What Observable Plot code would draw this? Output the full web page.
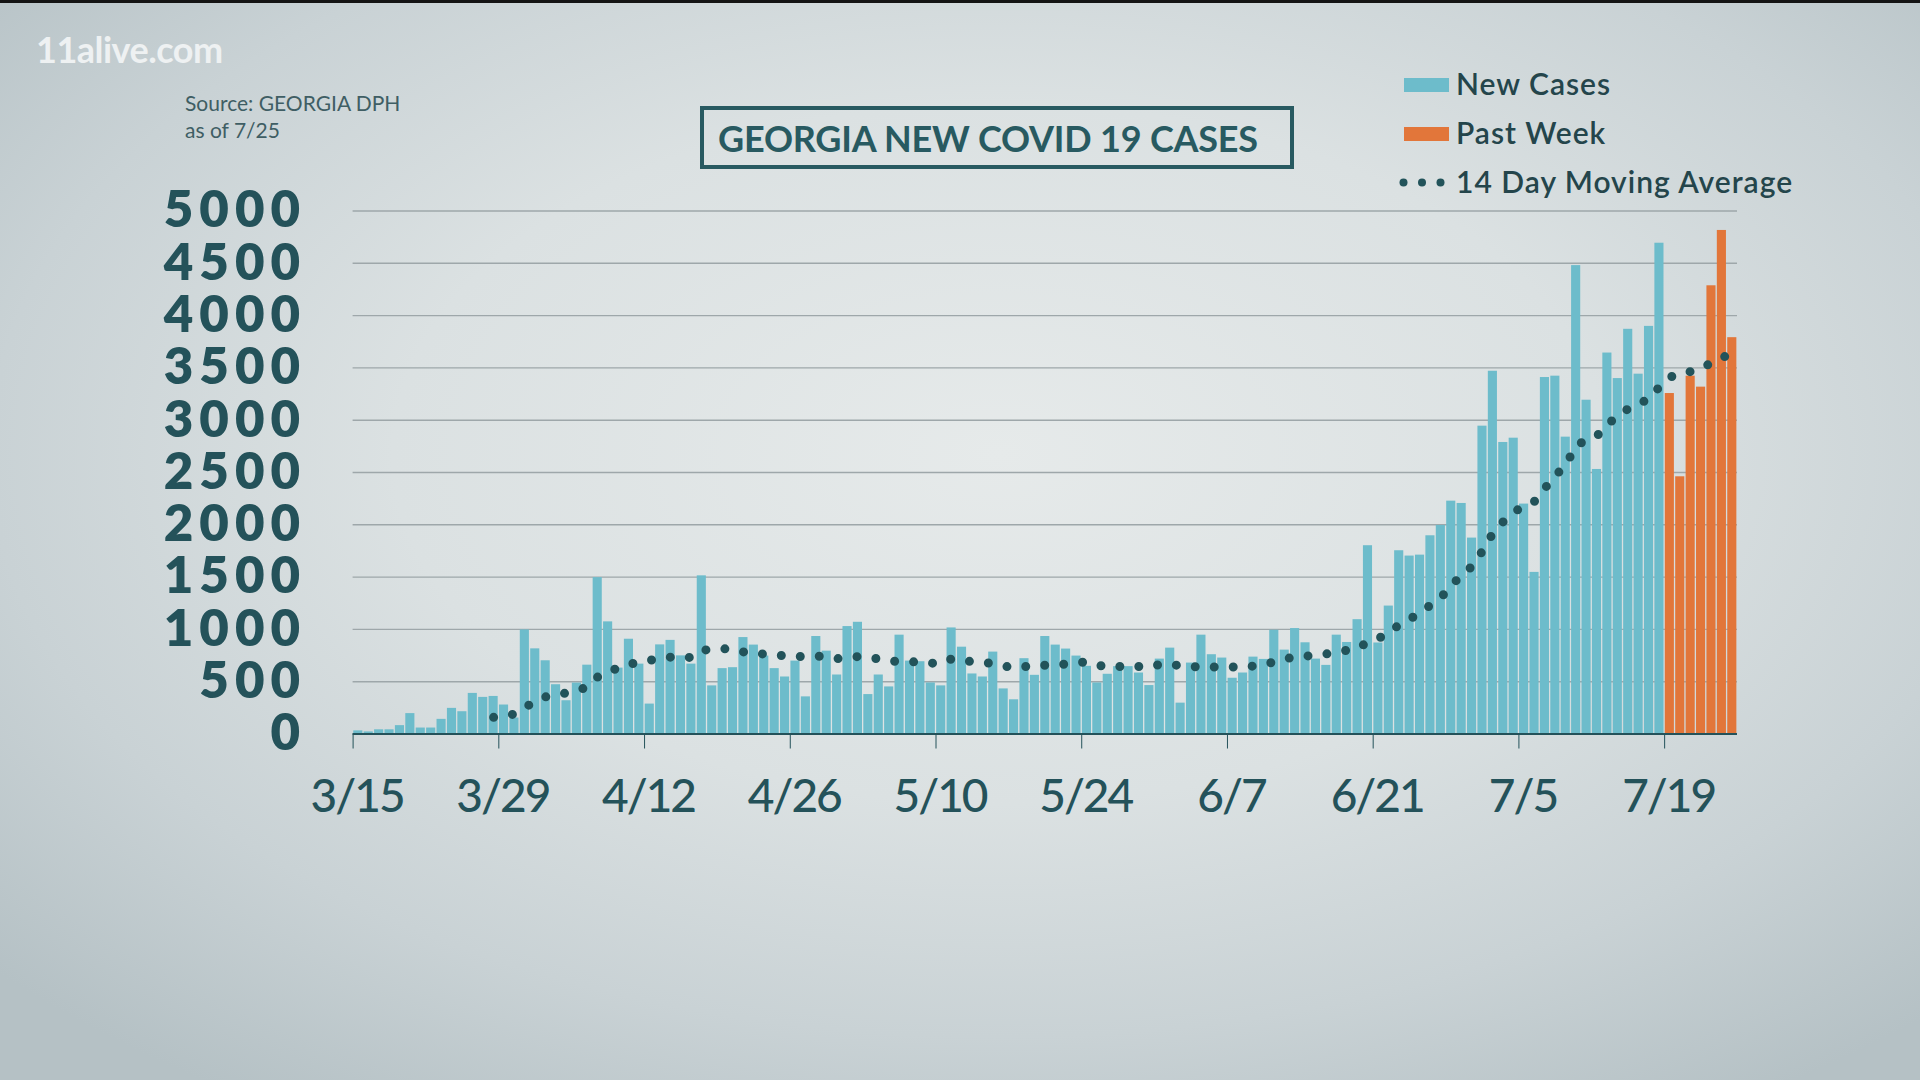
<!DOCTYPE html>
<html>
<head>
<meta charset="utf-8">
<script src="https://cdn.jsdelivr.net/npm/d3@7"></script>
<script src="https://cdn.jsdelivr.net/npm/@observablehq/plot@0.6"></script>
<style>
html, body { margin: 0; padding: 0; width: 1920px; height: 1080px; overflow: hidden; }
body {
  position: relative;
  font-family: Lato, "Open Sans", sans-serif;
  background: radial-gradient(ellipse 70% 72% at 52% 42%, #e6eaea 0%, #dbe1e2 45%, #c9d2d5 75%, #b5c1c5 100%);
}
#topbar { position: absolute; left: 0; top: 0; width: 1920px; height: 3px; background: #141414; }
#logo { position: absolute; left: 36px; top: 27px; font-weight: 700; font-size: 36px; color: #eef1f2; letter-spacing: -0.5px; }
#source { position: absolute; left: 185px; top: 89px; color: #3f5e64; font-size: 21px; line-height: 27px; white-space: nowrap; }
#title { position: absolute; left: 700px; top: 106px; width: 594px; height: 63px; box-sizing: border-box; border: 4px solid #285a61; }
#title span { position: absolute; left: 14px; top: 10px; font-weight: 700; font-size: 36px; line-height: 36px; letter-spacing: -0.2px; color: #285a61; white-space: nowrap; }
.leg { position: absolute; left: 1404px; height: 49px; font-size: 30px; font-weight: 600; color: #24454b; letter-spacing: 1px; white-space: nowrap; }
.leg .sw { position: absolute; left: 0; width: 45px; height: 14px; }
.leg .tx { position: absolute; left: 52px; line-height: 30px; }
.leg .dots { position: absolute; left: -5px; width: 46px; height: 9px; }
#chart { position: absolute; left: 0; top: 190px; }
#chart svg g[aria-label^="y-axis"] { font-size: 51px; font-weight: 800; letter-spacing: 6px; }
#chart svg g[aria-label^="x-axis"] { font-size: 46px; font-weight: 500; letter-spacing: -2px; }
</style>
</head>
<body>
<div id="topbar"></div>
<div id="logo">11alive.com</div>
<div id="source">Source: GEORGIA DPH<br>as of 7/25</div>
<div id="title"><span>GEORGIA NEW COVID 19 CASES</span></div>
<div id="legend"></div>
<div id="chart"></div>
<script>
// ---- data ----
const firstDay = "2020-03-15";      // first bar
const maFirstDay = "2020-03-28";    // first day of the 14-day moving average
const pastWeekFirstDay = "2020-07-19";
const seriesNames = ["New Cases", "Past Week"];
const maName = "14 Day Moving Average";
const seriesColors = ["#6dbccb", "#e2763a"];
const maColor = "#22535a";

// daily new cases, 3/15 .. 7/25
const cases = [
  30, 20, 40, 40, 80, 195, 57, 57, 140, 245, 213, 388, 350, 359,
  277, 153, 995, 814, 700, 471, 318, 487, 658, 1495, 1072, 630, 906, 668,
  286, 852, 895, 747, 668, 1512, 460, 625, 634, 922, 850, 745, 625, 545,
  697, 355, 932, 792, 564, 1027, 1068, 377, 564, 450, 945, 697, 691, 488,
  460, 1014, 830, 574, 545, 783, 431, 327, 720, 561, 932, 850, 812, 745,
  647, 488, 571, 644, 644, 583, 463, 716, 821, 295, 678, 945, 758, 726,
  533, 583, 735, 713, 992, 802, 1008, 872, 716, 656, 945, 875, 1093, 1800,
  870, 1223, 1752, 1701, 1710, 1895, 1994, 2226, 2204, 1873, 2943, 3468, 2787, 2828,
  2198, 1545, 3408, 3421, 2838, 4478, 3191, 2529, 3642, 3398, 3869, 3440, 3897, 4692,
  3255, 2459, 3421, 3316, 4285, 4814, 3789
];

// 14-day moving average, 3/28 .. 7/25
const movingAvg = [
  159, 175, 190, 255, 310, 355, 375, 392, 413, 450, 545, 600, 630, 665,
  690, 705, 720, 735, 740, 730, 800, 810, 815, 810, 785, 770, 765, 760,
  745, 742, 740, 745, 738, 720, 730, 740, 728, 720, 700, 692, 690, 690,
  678, 675, 718, 705, 690, 682, 675, 650, 632, 645, 652, 658, 662, 669,
  680, 691, 660, 640, 645, 650, 645, 640, 665, 670, 650, 645, 640, 640,
  640, 640, 640, 650, 662, 690, 715, 740, 745, 751, 765, 785, 800, 818,
  880, 910, 980, 1040, 1095, 1165, 1230, 1305, 1410, 1530, 1600, 1750, 1920, 2030,
  2120, 2180, 2225, 2350, 2470, 2570, 2760, 2810, 2850, 2960, 3040, 3110, 3160, 3200,
  3320, 3410, 3450, 3465, 3510, 3540, 3600, 3630
];

const xTickDays = ["2020-03-15", "2020-03-29", "2020-04-12", "2020-04-26", "2020-05-10",
                   "2020-05-24", "2020-06-07", "2020-06-21", "2020-07-05", "2020-07-19"];
const yTicks = [0, 500, 1000, 1500, 2000, 2500, 3000, 3500, 4000, 4500, 5000];

// ---- build tables ----
const t0 = new Date(firstDay);
const tMa = new Date(maFirstDay);
const tWeek = new Date(pastWeekFirstDay);
const rows = cases.map((v, i) => {
  const date = d3.utcDay.offset(t0, i);
  return {date, next: d3.utcDay.offset(t0, i + 1), cases: v,
          series: date >= tWeek ? seriesNames[1] : seriesNames[0]};
});
const maRows = movingAvg.map((v, i) => ({
  x: d3.utcHour.offset(d3.utcDay.offset(tMa, i), 12), ma: v
}));

const chart = Plot.plot({
  width: 1920,
  height: 650,
  marginLeft: 352.6,
  marginRight: 183,
  marginTop: 20.5,
  marginBottom: 106.5,
  style: {background: "transparent", fontFamily: "Lato, sans-serif", fontSize: "46px", color: "#24525a", overflow: "visible"},
  x: {type: "utc", domain: [t0, d3.utcDay.offset(t0, cases.length)],
      ticks: xTickDays.map(d => new Date(d)), tickFormat: d3.utcFormat("%-m/%-d"),
      tickSize: 15, tickPadding: 30, label: null},
  y: {domain: [0, 5000], ticks: yTicks, tickFormat: d => String(d), tickSize: 0, tickPadding: 47, label: null},
  color: {domain: seriesNames, range: seriesColors},
  marks: [
    Plot.ruleY(yTicks.filter(d => d > 0), {stroke: "#9ea7aa", strokeWidth: 1.4}),
    Plot.rectY(rows, {x1: "date", x2: "next", y1: 0, y2: "cases", fill: "series", insetLeft: 0.65, insetRight: 0.65}),
    Plot.ruleY([0], {stroke: "#24525a", strokeWidth: 2}),
    Plot.line(maRows, {x: "x", y: "ma", stroke: maColor, strokeWidth: 9, strokeLinecap: "round", strokeDasharray: "0 19"})
  ]
});
// nudge the date labels slightly right, as in the reference
d3.select(chart).selectAll('g[aria-label^="x-axis"] text').attr("dx", 4);
document.getElementById("chart").appendChild(chart);

// ---- legend (HTML) ----
const legend = document.getElementById("legend");
const legItems = [
  {name: seriesNames[0], color: seriesColors[0], top: 68},
  {name: seriesNames[1], color: seriesColors[1], top: 117},
  {name: maName, color: maColor, top: 166, dots: true}
];
legItems.forEach(it => {
  const d = document.createElement("div");
  d.className = "leg";
  d.style.top = it.top + "px";
  if (it.dots) {
    d.innerHTML = `<svg class="dots" style="top:12px" viewBox="0 0 46 9"><circle cx="4.5" cy="4.5" r="4" fill="${it.color}"/><circle cx="23" cy="4.5" r="4" fill="${it.color}"/><circle cx="41.5" cy="4.5" r="4" fill="${it.color}"/></svg><span class="tx" style="top:0">${it.name}</span>`;
  } else {
    d.innerHTML = `<div class="sw" style="top:10px;background:${it.color}"></div><span class="tx" style="top:0">${it.name}</span>`;
  }
  legend.appendChild(d);
});
</script>
</body>
</html>
